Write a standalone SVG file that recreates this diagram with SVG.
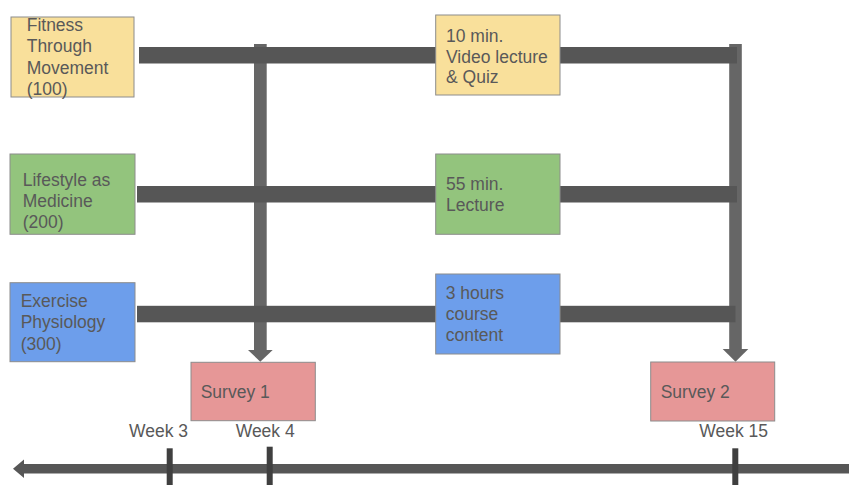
<svg xmlns="http://www.w3.org/2000/svg" width="849" height="485" viewBox="0 0 849 485">
<style>
.box{stroke:#8c8c8c;stroke-width:1}
.y{fill:#f9e09b}.g{fill:#93c47d}.b{fill:#6d9eeb}.r{fill:#e69797}
.t{font-family:"Liberation Sans",Arial,sans-serif;font-size:17.5px;fill:#595959}
.bar{fill:#565656}
.vl{fill:#666666}
.tick{fill:#3f3f3f}
</style>
<rect width="849" height="485" fill="#ffffff"/>
<g id="connectors">
<rect class="vl" x="254" y="44" width="12.7" height="307"/>
<polygon class="vl" points="248,350 272.7,350 260.3,361.7"/>
<rect class="vl" x="729.2" y="44" width="12.6" height="306"/>
<polygon class="vl" points="722.7,349 748.3,349 735.5,361.7"/>
<rect class="bar" x="139" y="47" width="598" height="16.5"/>
<rect class="bar" x="137" y="186" width="600" height="16.5"/>
<rect class="bar" x="137" y="305.8" width="598.5" height="16.5"/>
</g>
<g id="timeline">
<rect class="bar" x="23" y="464" width="826" height="9.5"/>
<polygon class="bar" points="13,468.8 24,459.5 24,478"/>
<rect class="tick" x="166.7" y="448.3" width="6" height="37"/>
<rect class="tick" x="266.7" y="446.7" width="6" height="39"/>
<rect class="tick" x="732.3" y="448.3" width="6" height="37"/>
<text class="t" x="129" y="437.3">Week 3</text>
<text class="t" x="235.7" y="437.3">Week 4</text>
<text class="t" x="699.3" y="436.7">Week 15</text>
</g>
<g id="fitness">
<rect class="box y" x="11" y="17" width="123" height="80"/>
<text class="t" x="26.7" y="30.7">Fitness</text>
<text class="t" x="26.7" y="52.3">Through</text>
<text class="t" x="26.7" y="73.5">Movement</text>
<text class="t" x="26.7" y="95">(100)</text>
</g>
<g id="video">
<rect class="box y" x="435.7" y="15" width="124.3" height="80"/>
<text class="t" x="446" y="41.7">10 min.</text>
<text class="t" x="446" y="62.5">Video lecture</text>
<text class="t" x="446" y="83.3">&amp; Quiz</text>
</g>
<g id="lifestyle">
<rect class="box g" x="10" y="154" width="125" height="80.3"/>
<text class="t" x="22.7" y="185.7">Lifestyle as</text>
<text class="t" x="22.7" y="206.7">Medicine</text>
<text class="t" x="22.7" y="228.3">(200)</text>
</g>
<g id="lecture">
<rect class="box g" x="435.7" y="154" width="124.3" height="80.3"/>
<text class="t" x="446" y="190">55 min.</text>
<text class="t" x="446" y="211">Lecture</text>
</g>
<g id="exercise">
<rect class="box b" x="10" y="282.7" width="125" height="79"/>
<text class="t" x="20.7" y="307.3">Exercise</text>
<text class="t" x="20.7" y="328.3">Physiology</text>
<text class="t" x="20.7" y="350">(300)</text>
</g>
<g id="course">
<rect class="box b" x="435.7" y="274" width="124.3" height="80"/>
<text class="t" x="445.7" y="299.3">3 hours</text>
<text class="t" x="445.7" y="320">course</text>
<text class="t" x="445.7" y="341">content</text>
</g>
<g id="survey1">
<rect class="box r" x="191" y="362.3" width="124.3" height="58.4"/>
<text class="t" x="200.7" y="397.7">Survey 1</text>
</g>
<g id="survey2">
<rect class="box r" x="650.7" y="362" width="124" height="59"/>
<text class="t" x="660.7" y="397.7">Survey 2</text>
</g>
</svg>
